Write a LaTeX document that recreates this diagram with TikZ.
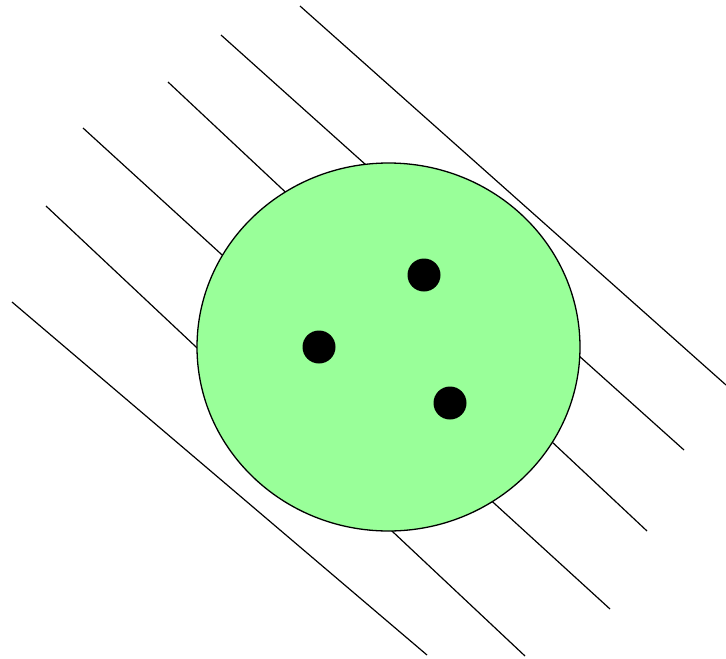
\documentclass[tikz,border=0pt]{standalone}
\usepackage{tikz}

\definecolor{cellgreen}{HTML}{99FF99}

\begin{document}
\begin{tikzpicture}[
  x=1pt,y=-1pt,
  ray/.style={draw=black,line width=1.2pt},
  cell/.style={draw=black,line width=1.3pt,fill=cellgreen},
  grain/.style={fill=black}]
  \useasboundingbox (0,0) rectangle (726,659);
  % incoming rays
  \draw[ray] (12,302) -- (427,655);
  \draw[ray] (46,206) -- (525,656);
  \draw[ray] (83,128) -- (610,609);
  \draw[ray] (168,82) -- (647,531);
  \draw[ray] (221,35) -- (684,450);
  \draw[ray] (300,6) -- (726,385);
  % cell with grains
  \path[cell] (388.5,347) ellipse [x radius=191.5,y radius=184];
  \path[grain] (424,275) circle [radius=16.5];
  \path[grain] (319,347) circle [radius=16.5];
  \path[grain] (450,403) circle [radius=16.5];
\end{tikzpicture}
\end{document}
